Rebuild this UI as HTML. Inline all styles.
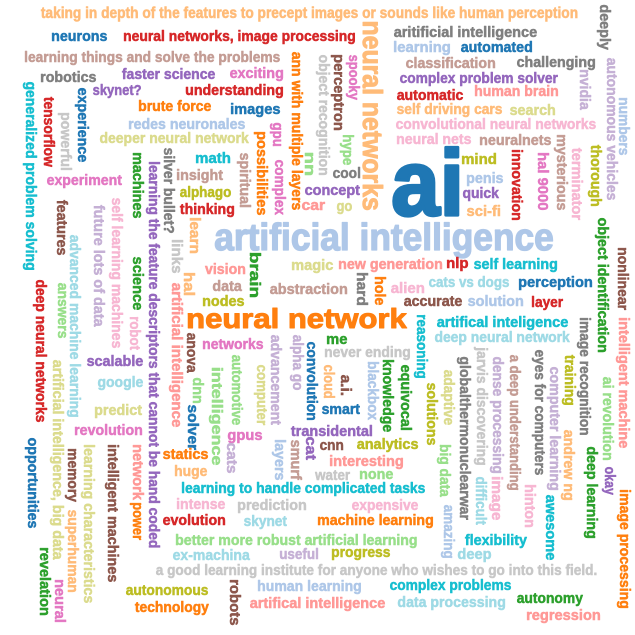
<!DOCTYPE html>
<html>
<head>
<meta charset="utf-8">
<style>
  html, body { margin: 0; padding: 0; background: #fff; }
  #cloud { display: block; }
  text { font-family: "Liberation Sans Narrow", "Liberation Sans", sans-serif; font-weight: bold; font-size: 100px; stroke-width: 3.5px; stroke-linejoin: round; }
</style>
</head>
<body>
<svg id="cloud" width="635" height="635" viewBox="0 0 635 635" xmlns="http://www.w3.org/2000/svg"></svg>
<script>
const palette = {B:"#1f77b4",b:"#aec7e8",O:"#ff7f0e",o:"#ffbb78",G:"#2ca02c",g:"#98df8a",R:"#d62728",r:"#ff9896",P:"#9467bd",p:"#c5b0d5",N:"#8c564b",n:"#c49c94",K:"#e377c2",k:"#f7b6d2",Y:"#7f7f7f",y:"#c7c7c7",L:"#bcbd22",l:"#dbdb8d",C:"#17becf",c:"#9edae5"};
// [word, colour key, orientation, a, b, c, thickness]
// h: a=x0, b=x1, c=y centre ; v: a=x centre, b=y0, c=y1
const table = [
["taking in depth of the features to precept images or sounds like human perception","o","h",41,578,14,15],
["neurons","B","h",52,107,37],
["neural networks, image processing","R","h",124,355,37],
["learning things and solve the problems","n","h",25,280,58],
["robotics","Y","h",41,96,78],
["faster science","P","h",122,215,75],
["exciting","K","h",230,283,74],
["skynet?","P","h",93,141,91],
["understanding","R","h",186,283,91],
["brute force","O","h",139,211,107],
["images","B","h",231,280,110],
["redes neuronales","b","h",129,245,125],
["deeper neural network","l","h",100,249,139],
["experiment","K","h",47,122,181],
["math","C","h",196,230,159],
["insight","n","h",177,223,176],
["alphago","L","h",180,231,193],
["thinking","R","h",180,234,210],
["vision","r","h",205,245,270],
["data","n","h",213,242,287],
["nodes","L","h",203,244,302],
["abstraction","n","h",270,347,290],
["magic","l","h",292,333,266],
["artificial intelligence","b","h",215,553,240,36],
["neural network","O","h",188,407,321,26],
["ai","B","h",393,458,191,87],
["aritificial intelligence","Y","h",394,537,33],
["learning","b","h",394,450,48],
["automated","B","h",461,532,48],
["classification","n","h",406,495,64],
["challenging","Y","h",517,595,63],
["complex problem solver","P","h",400,558,79],
["automatic","R","h",397,463,96],
["human brain","r","h",475,558,92],
["self driving cars","o","h",397,502,110],
["search","l","h",510,555,111],
["convolutional neural networks","k","h",396,596,125],
["neural nets","k","h",397,471,140],
["neuralnets","n","h",480,551,141],
["mind","L","h",462,496,160],
["cool","Y","h",333,360,174],
["concept","P","h",305,360,191],
["car","r","h",302,325,206],
["go","l","h",337,352,207],
["penis","b","h",467,503,179],
["quick","P","h",463,499,194],
["sci-fi","o","h",467,500,212],
["new generation","r","h",339,442,265],
["nlp","R","h",447,468,264],
["self learning","C","h",474,557,265],
["cats vs dogs","c","h",429,509,283],
["perception","B","h",519,592,283],
["alien","k","h",391,424,289],
["accurate","N","h",404,462,302],
["solution","b","h",468,523,302],
["layer","R","h",532,563,303],
["scalable","P","h",87,143,362],
["google","c","h",98,143,383],
["predict","l","h",95,142,411],
["revolution","K","h",75,142,431],
["autonomous","L","h",126,208,591],
["technology","O","h",135,209,608],
["networks","K","h",203,263,345],
["gpus","K","h",228,262,436],
["transidental","P","h",291,372,432],
["statics","O","h",163,208,455],
["huge","o","h",175,207,472],
["learning to handle complicated tasks","C","h",182,425,489],
["intense","k","h",177,225,505],
["prediction","y","h",238,306,506],
["evolution","R","h",163,225,521],
["skynet","c","h",244,287,522],
["better more robust artificial learning","g","h",176,417,541],
["ex-machina","c","h",173,250,556],
["useful","p","h",280,318,555],
["a good learning institute for anyone who wishes to go into this field.","y","h",156,597,571],
["human learning","b","h",258,361,587],
["artifical intelligence","r","h",250,385,604],
["artifical inteligence","C","h",437,568,323],
["me","G","h",327,347,340],
["never ending","y","h",325,410,353],
["deep neural network","c","h",435,570,338],
["smart","B","h",322,360,410],
["cnn","N","h",320,343,446],
["analytics","L","h",357,418,445],
["interesting","r","h",330,403,462],
["water","y","h",315,350,476],
["none","g","h",360,393,475],
["expensive","k","h",352,418,506],
["machine learning","O","h",318,433,521],
["progress","L","h",332,390,553],
["complex problems","C","h",390,511,586],
["data processing","c","h",398,505,603],
["autonomy","G","h",517,583,599],
["regression","r","h",527,600,616],
["flexibility","C","h",465,527,541],
["deep","c","h",458,491,555],
["ann with multiple layers","O","v",296,52,210],
["object recognition","y","v",323,55,175],
["generalized problem solving","C","v",30,82,270],
["tensorflow","R","v",48,97,167],
["experience","B","v",82,88,162],
["powerful","y","v",65,113,170],
["gpu","K","v",277,123,146],
["possibilities","O","v",261,132,215],
["complex","K","v",279,160,215],
["spiritual","n","v",244,153,207],
["nn","g","v",309,153,175],
["silver bullet?","Y","v",168,148,233],
["machines","G","v",137,153,218],
["learning the feature descriptors that cannot be hand coded","P","v",153,162,548],
["features","N","v",61,200,255],
["future lots of data","p","v",98,205,327],
["self learning machines","k","v",116,198,348],
["advanced machine learning","c","v",74,235,417],
["answers","g","v",62,283,338],
["deep neural networks","R","v",40,280,422],
["science","G","v",137,257,310],
["robot","k","v",134,317,350],
["links","y","v",176,240,273],
["learn","o","v",194,218,253],
["hal","o","v",188,273,295],
["artificial intelligence","r","v",176,283,427],
["brain","G","v",254,253,297],
["deeply","Y","v",604,5,50],
["neural networks","o","v",370,22,210,26],
["perceptron","N","v",338,55,130],
["spooky","K","v",353,55,100],
["hype","g","v",347,135,165],
["nvidia","p","v",584,70,110],
["autonomous vehicles","p","v",611,58,200],
["numbers","b","v",623,98,155],
["innovation","R","v",516,150,220],
["hal 9000","K","v",542,153,210],
["mysterious","n","v",561,135,210],
["terminator","k","v",576,148,220],
["thorough","L","v",595,145,206],
["object identification","G","v",602,218,352],
["nonlinear","N","v",622,248,310],
["hard","Y","v",361,273,305],
["hole","O","v",379,277,305],
["artificial intelligence, big data","l","v",57,360,560],
["opportunities","B","v",32,438,528],
["memory","N","v",72,449,502],
["learning characteristics","l","v",88,445,603],
["superhuman","o","v",72,510,592],
["revelation","G","v",44,548,615],
["neural","K","v",59,580,622],
["intelligent machines","N","v",112,445,582],
["network","r","v",137,445,500],
["power","O","v",137,503,540],
["robots","N","v",234,580,625],
["anova","N","v",191,333,373],
["advancement","p","v",275,335,425],
["alpha go","p","v",297,335,390],
["convolution","B","v",311,342,420],
["automotive","g","v",236,355,425],
["computer","l","v",261,365,425],
["dnn","g","v",197,378,403],
["solver","B","v",192,405,450],
["intelligence","g","v",216,368,465],
["cats","p","v",231,443,473],
["layers","b","v",279,440,480],
["smurf","n","v",295,440,480],
["cat","P","v",310,437,460],
["reasoning","C","v",421,315,378],
["cloud","o","v",328,365,398],
["a.i.","N","v",345,375,395],
["blackbox","b","v",372,362,420],
["knowledge","G","v",387,360,432],
["equivocal","G","v",405,365,430],
["solutions","L","v",431,383,445],
["adaptive","l","v",448,370,425],
["big data","g","v",444,445,497],
["globalthermonuclearwar","Y","v",464,357,520],
["jarvis discovering","y","v",481,347,465],
["dense processing","p","v",497,357,473],
["a deep understanding","n","v",514,355,490],
["eyes for computers","Y","v",539,350,475],
["computer learning","p","v",554,367,490],
["training","L","v",569,355,405],
["image recognition","Y","v",584,318,435],
["difficult","c","v",480,477,525],
["image","k","v",496,477,520],
["amazing","b","v",448,505,558],
["hinton","k","v",529,485,527],
["awesome","C","v",550,495,560],
["andrew ng","o","v",568,430,500],
["deep learning","G","v",591,447,538],
["ai revolution","g","v",607,377,460],
["okay","P","v",609,467,495],
["intelligent machine","r","v",623,318,448],
["image processing","O","v",624,490,608]
];
const words = table.map(r => r[0]);
const colorKeys = table.map(r => r[1]);

const svg = document.getElementById('cloud');
const NS = "http://www.w3.org/2000/svg";
const cv = document.createElement('canvas');
const ctx = cv.getContext('2d');
ctx.font = 'bold 100px "Liberation Sans Narrow", "Liberation Sans", sans-serif';
const refA = ctx.measureText('bdfhklt').actualBoundingBoxAscent;
const refD = ctx.measureText('gjpqy').actualBoundingBoxDescent;

table.forEach((r, i) => {
  const word = words[i];
  const ori = r[2], a = r[3], b = r[4], c = r[5], h = r[6] || 14;
  const m = ctx.measureText(word);
  const w = m.actualBoundingBoxLeft + m.actualBoundingBoxRight;
  const sy = h / (refA + refD);
  const t = document.createElementNS(NS, 'text');
  t.textContent = word;
  t.setAttribute('fill', palette[colorKeys[i]]);
  t.setAttribute('stroke', palette[colorKeys[i]]);
  let tr;
  if (ori === 'h') {
    const sx = (b - a) / w;
    const top = c - h / 2;
    tr = `translate(${a + m.actualBoundingBoxLeft * sx},${top + refA * sy}) scale(${sx},${sy})`;
  } else {
    const sx = (c - b) / w;
    const right = a + h / 2;
    tr = `translate(${right - refA * sy},${b + m.actualBoundingBoxLeft * sx}) rotate(90) scale(${sx},${sy})`;
  }
  t.setAttribute('transform', tr);
  
  
  svg.appendChild(t);
});
</script>
</body>
</html>
